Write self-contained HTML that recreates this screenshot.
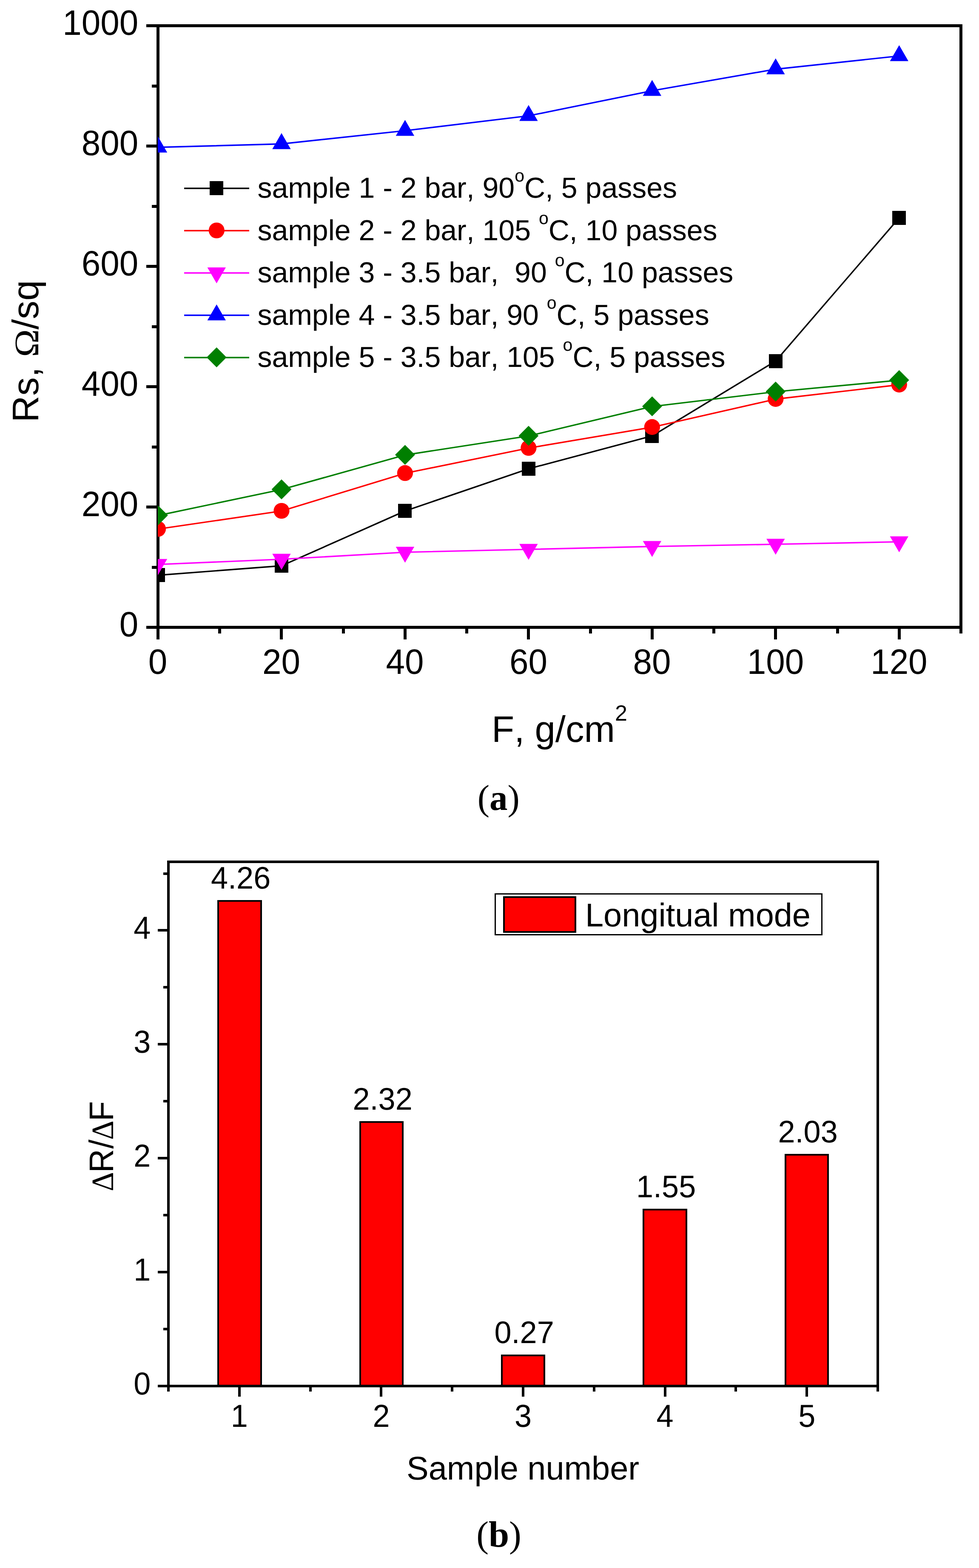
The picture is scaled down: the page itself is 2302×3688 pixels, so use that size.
<!DOCTYPE html>
<html lang="en">
<head>
<meta charset="utf-8">
<title>Sheet resistance vs. load and sensitivity per sample</title>
<style>
html, body { margin: 0; padding: 0; background: #ffffff; }
body { width: 2302px; height: 3688px; overflow: hidden; }
svg { display: block; }
text { white-space: pre; font-kerning: none; font-variant-ligatures: none; text-rendering: geometricPrecision; }
</style>
</head>
<body>
<svg width="2302" height="3688" viewBox="0 0 2302 3688">
<rect x="0" y="0" width="2302" height="3688" fill="#ffffff"/>
<g id="chart-a">
<g stroke="#000" stroke-width="7" fill="none" stroke-linecap="butt" shape-rendering="crispEdges">
<rect x="371.5" y="60.5" width="1888.0" height="1415.0"/>
<line x1="344.00" y1="1475.50" x2="371.50" y2="1475.50"/>
<line x1="357.00" y1="1334.00" x2="371.50" y2="1334.00"/>
<line x1="344.00" y1="1192.50" x2="371.50" y2="1192.50"/>
<line x1="357.00" y1="1051.00" x2="371.50" y2="1051.00"/>
<line x1="344.00" y1="909.50" x2="371.50" y2="909.50"/>
<line x1="357.00" y1="768.00" x2="371.50" y2="768.00"/>
<line x1="344.00" y1="626.50" x2="371.50" y2="626.50"/>
<line x1="357.00" y1="485.00" x2="371.50" y2="485.00"/>
<line x1="344.00" y1="343.50" x2="371.50" y2="343.50"/>
<line x1="357.00" y1="202.00" x2="371.50" y2="202.00"/>
<line x1="344.00" y1="60.50" x2="371.50" y2="60.50"/>
<line x1="371.50" y1="1475.50" x2="371.50" y2="1503.90"/>
<line x1="516.73" y1="1475.50" x2="516.73" y2="1490.00"/>
<line x1="661.96" y1="1475.50" x2="661.96" y2="1503.90"/>
<line x1="807.19" y1="1475.50" x2="807.19" y2="1490.00"/>
<line x1="952.42" y1="1475.50" x2="952.42" y2="1503.90"/>
<line x1="1097.65" y1="1475.50" x2="1097.65" y2="1490.00"/>
<line x1="1242.88" y1="1475.50" x2="1242.88" y2="1503.90"/>
<line x1="1388.12" y1="1475.50" x2="1388.12" y2="1490.00"/>
<line x1="1533.35" y1="1475.50" x2="1533.35" y2="1503.90"/>
<line x1="1678.58" y1="1475.50" x2="1678.58" y2="1490.00"/>
<line x1="1823.81" y1="1475.50" x2="1823.81" y2="1503.90"/>
<line x1="1969.04" y1="1475.50" x2="1969.04" y2="1490.00"/>
<line x1="2114.27" y1="1475.50" x2="2114.27" y2="1503.90"/>
<line x1="2259.50" y1="1475.50" x2="2259.50" y2="1490.00"/>
</g>
<text transform="translate(325.20,1497.20) scale(1,1.04)" font-family='"Liberation Sans", sans-serif' font-size="80" text-anchor="end" fill="#000">0</text>
<text transform="translate(325.20,1214.20) scale(1,1.04)" font-family='"Liberation Sans", sans-serif' font-size="80" text-anchor="end" fill="#000">200</text>
<text transform="translate(325.20,931.20) scale(1,1.04)" font-family='"Liberation Sans", sans-serif' font-size="80" text-anchor="end" fill="#000">400</text>
<text transform="translate(325.20,648.20) scale(1,1.04)" font-family='"Liberation Sans", sans-serif' font-size="80" text-anchor="end" fill="#000">600</text>
<text transform="translate(325.20,365.20) scale(1,1.04)" font-family='"Liberation Sans", sans-serif' font-size="80" text-anchor="end" fill="#000">800</text>
<text transform="translate(325.20,82.20) scale(1,1.04)" font-family='"Liberation Sans", sans-serif' font-size="80" text-anchor="end" fill="#000">1000</text>
<text transform="translate(371.10,1585.20) scale(1,1.04)" font-family='"Liberation Sans", sans-serif' font-size="80" text-anchor="middle" fill="#000">0</text>
<text transform="translate(661.56,1585.20) scale(1,1.04)" font-family='"Liberation Sans", sans-serif' font-size="80" text-anchor="middle" fill="#000">20</text>
<text transform="translate(952.02,1585.20) scale(1,1.04)" font-family='"Liberation Sans", sans-serif' font-size="80" text-anchor="middle" fill="#000">40</text>
<text transform="translate(1242.48,1585.20) scale(1,1.04)" font-family='"Liberation Sans", sans-serif' font-size="80" text-anchor="middle" fill="#000">60</text>
<text transform="translate(1532.95,1585.20) scale(1,1.04)" font-family='"Liberation Sans", sans-serif' font-size="80" text-anchor="middle" fill="#000">80</text>
<text transform="translate(1823.41,1585.20) scale(1,1.04)" font-family='"Liberation Sans", sans-serif' font-size="80" text-anchor="middle" fill="#000">100</text>
<text transform="translate(2113.87,1585.20) scale(1,1.04)" font-family='"Liberation Sans", sans-serif' font-size="80" text-anchor="middle" fill="#000">120</text>
<defs><clipPath id="clipA"><rect x="371" y="60" width="1889" height="1416"/></clipPath></defs>
<g clip-path="url(#clipA)">
<polyline points="371.50,1353.00 661.96,1330.80 952.42,1201.90 1242.88,1102.60 1533.35,1025.40 1823.81,849.30 2114.27,512.40" fill="none" stroke="#000000" stroke-width="3.4" stroke-linejoin="round"/>
<rect x="355.50" y="1336.20" width="32" height="33" fill="#000000" shape-rendering="crispEdges"/>
<rect x="645.96" y="1314.00" width="32" height="33" fill="#000000" shape-rendering="crispEdges"/>
<rect x="936.42" y="1185.10" width="32" height="33" fill="#000000" shape-rendering="crispEdges"/>
<rect x="1226.88" y="1085.80" width="32" height="33" fill="#000000" shape-rendering="crispEdges"/>
<rect x="1517.35" y="1008.60" width="32" height="33" fill="#000000" shape-rendering="crispEdges"/>
<rect x="1807.81" y="832.50" width="32" height="33" fill="#000000" shape-rendering="crispEdges"/>
<rect x="2098.27" y="495.60" width="32" height="33" fill="#000000" shape-rendering="crispEdges"/>
<polyline points="371.50,1244.40 661.96,1201.90 952.42,1113.10 1242.88,1053.90 1533.35,1004.80 1823.81,938.80 2114.27,905.00" fill="none" stroke="#ff0000" stroke-width="3.4" stroke-linejoin="round"/>
<circle cx="371.50" cy="1244.00" r="18.6" fill="#ff0000"/>
<circle cx="661.96" cy="1201.50" r="18.6" fill="#ff0000"/>
<circle cx="952.42" cy="1112.70" r="18.6" fill="#ff0000"/>
<circle cx="1242.88" cy="1053.50" r="18.6" fill="#ff0000"/>
<circle cx="1533.35" cy="1004.40" r="18.6" fill="#ff0000"/>
<circle cx="1823.81" cy="938.40" r="18.6" fill="#ff0000"/>
<circle cx="2114.27" cy="904.60" r="18.6" fill="#ff0000"/>
<polyline points="371.50,1327.60 661.96,1315.40 952.42,1298.90 1242.88,1292.10 1533.35,1285.40 1823.81,1280.10 2114.27,1274.40" fill="none" stroke="#ff00ff" stroke-width="3.4" stroke-linejoin="round"/>
<polygon points="349.80,1314.67 393.20,1314.67 371.50,1352.27" fill="#ff00ff"/>
<polygon points="640.26,1302.47 683.66,1302.47 661.96,1340.07" fill="#ff00ff"/>
<polygon points="930.72,1285.97 974.12,1285.97 952.42,1323.57" fill="#ff00ff"/>
<polygon points="1221.18,1279.17 1264.58,1279.17 1242.88,1316.77" fill="#ff00ff"/>
<polygon points="1511.65,1272.47 1555.05,1272.47 1533.35,1310.07" fill="#ff00ff"/>
<polygon points="1802.11,1267.17 1845.51,1267.17 1823.81,1304.77" fill="#ff00ff"/>
<polygon points="2092.57,1261.47 2135.97,1261.47 2114.27,1299.07" fill="#ff00ff"/>
<polyline points="371.50,346.50 661.96,338.50 952.42,307.40 1242.88,272.40 1533.35,213.40 1823.81,162.70 2114.27,131.60" fill="none" stroke="#0000ff" stroke-width="3.4" stroke-linejoin="round"/>
<polygon points="349.80,358.63 393.20,358.63 371.50,321.03" fill="#0000ff"/>
<polygon points="640.26,350.63 683.66,350.63 661.96,313.03" fill="#0000ff"/>
<polygon points="930.72,319.53 974.12,319.53 952.42,281.93" fill="#0000ff"/>
<polygon points="1221.18,284.53 1264.58,284.53 1242.88,246.93" fill="#0000ff"/>
<polygon points="1511.65,225.53 1555.05,225.53 1533.35,187.93" fill="#0000ff"/>
<polygon points="1802.11,174.83 1845.51,174.83 1823.81,137.23" fill="#0000ff"/>
<polygon points="2092.57,143.73 2135.97,143.73 2114.27,106.13" fill="#0000ff"/>
<polyline points="371.50,1212.50 661.96,1151.40 952.42,1070.20 1242.88,1025.40 1533.35,956.10 1823.81,921.40 2114.27,894.30" fill="none" stroke="#007f00" stroke-width="3.4" stroke-linejoin="round"/>
<polygon points="348.10,1212.10 371.50,1188.70 394.90,1212.10 371.50,1235.50" fill="#007f00"/>
<polygon points="638.56,1151.00 661.96,1127.60 685.36,1151.00 661.96,1174.40" fill="#007f00"/>
<polygon points="929.02,1069.80 952.42,1046.40 975.82,1069.80 952.42,1093.20" fill="#007f00"/>
<polygon points="1219.48,1025.00 1242.88,1001.60 1266.28,1025.00 1242.88,1048.40" fill="#007f00"/>
<polygon points="1509.95,955.70 1533.35,932.30 1556.75,955.70 1533.35,979.10" fill="#007f00"/>
<polygon points="1800.41,921.00 1823.81,897.60 1847.21,921.00 1823.81,944.40" fill="#007f00"/>
<polygon points="2090.87,893.90 2114.27,870.50 2137.67,893.90 2114.27,917.30" fill="#007f00"/>
</g>
<line x1="433" y1="443.00" x2="586" y2="443.00" stroke="#000000" stroke-width="3.6"/>
<rect x="493.30" y="426.10" width="32" height="33" fill="#000000" shape-rendering="crispEdges"/>
<text x="605.4" y="465.10" font-family='"Liberation Sans", sans-serif' font-size="68" fill="#000" xml:space="preserve">sample 1 - 2 bar, 90<tspan font-size="41" dy="-38">o</tspan><tspan dy="38">C, 5 passes</tspan></text>
<line x1="433" y1="542.50" x2="586" y2="542.50" stroke="#ff0000" stroke-width="3.6"/>
<circle cx="509.30" cy="542.00" r="18.6" fill="#ff0000"/>
<text x="605.4" y="564.60" font-family='"Liberation Sans", sans-serif' font-size="68" fill="#000" xml:space="preserve">sample 2 - 2 bar, 105 <tspan font-size="41" dy="-38">o</tspan><tspan dy="38">C, 10 passes</tspan></text>
<line x1="433" y1="642.00" x2="586" y2="642.00" stroke="#ff00ff" stroke-width="3.6"/>
<polygon points="487.60,628.97 531.00,628.97 509.30,666.57" fill="#ff00ff"/>
<text x="605.4" y="664.10" font-family='"Liberation Sans", sans-serif' font-size="68" fill="#000" xml:space="preserve">sample 3 - 3.5 bar,  90 <tspan font-size="41" dy="-38">o</tspan><tspan dy="38">C, 10 passes</tspan></text>
<line x1="433" y1="741.50" x2="586" y2="741.50" stroke="#0000ff" stroke-width="3.6"/>
<polygon points="487.60,753.53 531.00,753.53 509.30,715.93" fill="#0000ff"/>
<text x="605.4" y="763.60" font-family='"Liberation Sans", sans-serif' font-size="68" fill="#000" xml:space="preserve">sample 4 - 3.5 bar, 90 <tspan font-size="41" dy="-38">o</tspan><tspan dy="38">C, 5 passes</tspan></text>
<line x1="433" y1="841.00" x2="586" y2="841.00" stroke="#007f00" stroke-width="3.6"/>
<polygon points="485.90,840.50 509.30,817.10 532.70,840.50 509.30,863.90" fill="#007f00"/>
<text x="605.4" y="863.10" font-family='"Liberation Sans", sans-serif' font-size="68" fill="#000" xml:space="preserve">sample 5 - 3.5 bar, 105 <tspan font-size="41" dy="-38">o</tspan><tspan dy="38">C, 5 passes</tspan></text>
<text transform="translate(90,993.5) rotate(-90)" font-family='"Liberation Sans", sans-serif' font-size="87" fill="#000" xml:space="preserve">Rs, <tspan x="153.8" font-family='"Liberation Serif", serif' font-size="81" textLength="65.6" lengthAdjust="spacingAndGlyphs">Ω</tspan><tspan x="218.5">/sq</tspan></text>
<text x="1156" y="1745" font-family='"Liberation Sans", sans-serif' font-size="87" fill="#000">F, g/cm<tspan font-size="52" dy="-50">2</tspan></text>
<text x="1172.3" y="1905" text-anchor="middle" font-family='"Liberation Serif", serif' font-size="85" fill="#000">(<tspan font-weight="bold">a</tspan>)</text>
</g>
<g id="chart-b">
<rect x="513" y="2119" width="101" height="1141" fill="#ff0000" stroke="#000" stroke-width="4" shape-rendering="crispEdges"/>
<text transform="translate(566.10,2089.60) scale(1,1.02)" font-family='"Liberation Sans", sans-serif' font-size="72" text-anchor="middle" fill="#000">4.26</text>
<rect x="847" y="2639" width="100" height="621" fill="#ff0000" stroke="#000" stroke-width="4" shape-rendering="crispEdges"/>
<text transform="translate(899.60,2609.60) scale(1,1.02)" font-family='"Liberation Sans", sans-serif' font-size="72" text-anchor="middle" fill="#000">2.32</text>
<rect x="1180" y="3188" width="100" height="72" fill="#ff0000" stroke="#000" stroke-width="4" shape-rendering="crispEdges"/>
<text transform="translate(1232.60,3158.60) scale(1,1.02)" font-family='"Liberation Sans", sans-serif' font-size="72" text-anchor="middle" fill="#000">0.27</text>
<rect x="1513" y="2845" width="101" height="415" fill="#ff0000" stroke="#000" stroke-width="4" shape-rendering="crispEdges"/>
<text transform="translate(1566.10,2815.60) scale(1,1.02)" font-family='"Liberation Sans", sans-serif' font-size="72" text-anchor="middle" fill="#000">1.55</text>
<rect x="1847" y="2716" width="100" height="544" fill="#ff0000" stroke="#000" stroke-width="4" shape-rendering="crispEdges"/>
<text transform="translate(1899.60,2686.60) scale(1,1.02)" font-family='"Liberation Sans", sans-serif' font-size="72" text-anchor="middle" fill="#000">2.03</text>
<g stroke="#000" stroke-width="6" fill="none" shape-rendering="crispEdges">
<rect x="396.0" y="2027.0" width="1668.0" height="1233.0"/>
<line x1="371.00" y1="3260.00" x2="396.00" y2="3260.00"/>
<line x1="384.00" y1="3126.06" x2="396.00" y2="3126.06"/>
<line x1="371.00" y1="2992.12" x2="396.00" y2="2992.12"/>
<line x1="384.00" y1="2858.18" x2="396.00" y2="2858.18"/>
<line x1="371.00" y1="2724.24" x2="396.00" y2="2724.24"/>
<line x1="384.00" y1="2590.30" x2="396.00" y2="2590.30"/>
<line x1="371.00" y1="2456.36" x2="396.00" y2="2456.36"/>
<line x1="384.00" y1="2322.42" x2="396.00" y2="2322.42"/>
<line x1="371.00" y1="2188.48" x2="396.00" y2="2188.48"/>
<line x1="384.00" y1="2054.54" x2="396.00" y2="2054.54"/>
<line x1="396.00" y1="3260.00" x2="396.00" y2="3273.00"/>
<line x1="562.80" y1="3260.00" x2="562.80" y2="3285.00"/>
<line x1="729.60" y1="3260.00" x2="729.60" y2="3273.00"/>
<line x1="896.40" y1="3260.00" x2="896.40" y2="3285.00"/>
<line x1="1063.20" y1="3260.00" x2="1063.20" y2="3273.00"/>
<line x1="1230.00" y1="3260.00" x2="1230.00" y2="3285.00"/>
<line x1="1396.80" y1="3260.00" x2="1396.80" y2="3273.00"/>
<line x1="1563.60" y1="3260.00" x2="1563.60" y2="3285.00"/>
<line x1="1730.40" y1="3260.00" x2="1730.40" y2="3273.00"/>
<line x1="1897.20" y1="3260.00" x2="1897.20" y2="3285.00"/>
<line x1="2064.00" y1="3260.00" x2="2064.00" y2="3273.00"/>
</g>
<text transform="translate(354.30,3279.50) scale(1,1.04)" font-family='"Liberation Sans", sans-serif' font-size="72" text-anchor="end" fill="#000">0</text>
<text transform="translate(354.30,3011.62) scale(1,1.04)" font-family='"Liberation Sans", sans-serif' font-size="72" text-anchor="end" fill="#000">1</text>
<text transform="translate(354.30,2743.74) scale(1,1.04)" font-family='"Liberation Sans", sans-serif' font-size="72" text-anchor="end" fill="#000">2</text>
<text transform="translate(354.30,2475.86) scale(1,1.04)" font-family='"Liberation Sans", sans-serif' font-size="72" text-anchor="end" fill="#000">3</text>
<text transform="translate(354.30,2207.98) scale(1,1.04)" font-family='"Liberation Sans", sans-serif' font-size="72" text-anchor="end" fill="#000">4</text>
<text transform="translate(562.80,3356.00) scale(1,1.04)" font-family='"Liberation Sans", sans-serif' font-size="72" text-anchor="middle" fill="#000">1</text>
<text transform="translate(896.40,3356.00) scale(1,1.04)" font-family='"Liberation Sans", sans-serif' font-size="72" text-anchor="middle" fill="#000">2</text>
<text transform="translate(1230.00,3356.00) scale(1,1.04)" font-family='"Liberation Sans", sans-serif' font-size="72" text-anchor="middle" fill="#000">3</text>
<text transform="translate(1563.60,3356.00) scale(1,1.04)" font-family='"Liberation Sans", sans-serif' font-size="72" text-anchor="middle" fill="#000">4</text>
<text transform="translate(1897.20,3356.00) scale(1,1.04)" font-family='"Liberation Sans", sans-serif' font-size="72" text-anchor="middle" fill="#000">5</text>
<rect x="1164.5" y="2102.5" width="768" height="96" fill="#fff" stroke="#000" stroke-width="3" shape-rendering="crispEdges"/>
<rect x="1185" y="2110" width="168" height="82" fill="#ff0000" stroke="#000" stroke-width="4" shape-rendering="crispEdges"/>
<text x="1376" y="2178.5" font-family='"Liberation Sans", sans-serif' font-size="77.5" fill="#000">Longitual mode</text>
<text x="1229.6" y="3480" text-anchor="middle" font-family='"Liberation Sans", sans-serif' font-size="77.5" fill="#000">Sample number</text>
<text transform="translate(266,2802.0) rotate(-90) scale(1,1.04)" font-family='"Liberation Sans", sans-serif' font-size="77" fill="#000"><tspan font-family='"Liberation Serif", serif' font-size="70.5">Δ</tspan><tspan dx="-1.5">R</tspan><tspan dx="0.7">/</tspan><tspan font-family='"Liberation Serif", serif' font-size="70.5" dx="-0.5">Δ</tspan><tspan dx="-1.5">F</tspan></text>
<text x="1173" y="3637.5" text-anchor="middle" font-family='"Liberation Serif", serif' font-size="86.5" fill="#000">(<tspan font-weight="bold">b</tspan>)</text>
</g>
</svg>
</body>
</html>
